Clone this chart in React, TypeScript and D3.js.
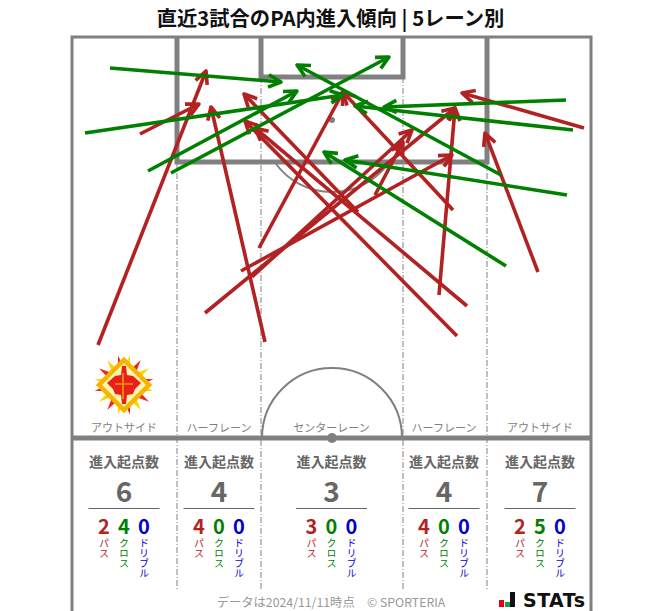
import React from 'react';
import * as d3 from 'd3';

const WIDTH = 663;
const HEIGHT = 611;

// arrows: start x, start y, end x, end y, in pitch units from the frame's top left corner
const passArrows = [
    [26, 308, 134, 34],
    [68, 97, 127, 67],
    [193, 305, 139, 70],
    [286, 175, 172, 57],
    [385, 299, 173, 84],
    [395, 269, 183, 91],
    [187, 211, 271, 55],
    [381, 173, 271, 55],
    [303, 158, 331, 105],
    [133, 276, 383, 71],
    [169, 234, 380, 118],
    [180, 240, 340, 93],
    [367, 258, 383, 71],
    [466, 235, 413, 96],
    [512, 91, 390, 56]
];
const crossArrows = [
    [38, 31, 209, 45],
    [13, 96, 271, 58],
    [76, 134, 225, 54],
    [99, 136, 317, 20],
    [494, 63, 312, 70],
    [501, 93, 283, 69],
    [495, 158, 273, 123],
    [429, 138, 225, 28],
    [434, 229, 252, 115]
];

const laneNames = ['アウトサイド', 'ハーフレーン', 'センターレーン', 'ハーフレーン', 'アウトサイド'];
const laneCenters = [52, 147, 259.5, 372, 468];
const totals = [6, 4, 3, 4, 7];
const passes = [2, 4, 3, 4, 2];
const crosses = [4, 0, 0, 0, 5];
const dribbles = [0, 0, 0, 0, 0];
const laneLines = [105, 189, 331, 415];

const RED = '#b22222';
const GREEN = '#008000';
const BLUE = '#0000cd';
const LINE = '#808080';
const FONT = '"Noto Sans CJK JP", "Noto Sans", sans-serif';

const x = d3.scaleLinear().domain([0, 519]).range([72, 591]);
const y = d3.scaleLinear().domain([0, 574]).range([37, 611]);

const arrowHead = (a: number[]) => {
    const x1 = x(a[2]);
    const y1 = y(a[3]);
    const angle = Math.atan2(y(a[1]) - y1, x(a[0]) - x1);
    const len = 14;
    const spread = 0.46;
    const p = (d: number) => [x1 + Math.cos(angle + d) * len, y1 + Math.sin(angle + d) * len];
    const [ax, ay] = p(spread);
    const [bx, by] = p(-spread);
    return `M${ax},${ay}L${x1},${y1}L${bx},${by}`;
};

function Arrows({ data, color }: { data: number[][]; color: string }) {
    return (
        <g stroke={color} fill="none" strokeWidth={3.6}>
            {data.map((a, i) => (
                <g key={i}>
                    <line x1={x(a[0])} y1={y(a[1])} x2={x(a[2])} y2={y(a[3])} />
                    <path d={arrowHead(a)} strokeLinejoin="round" />
                </g>
            ))}
        </g>
    );
}

function Emblem({ cx, cy }: { cx: number; cy: number }) {
    const spikes = d3.range(16);
    const wedge = (i: number, outer: number) => {
        const a = (i / 16) * Math.PI * 2;
        const w = Math.PI / 11;
        const inner = 14;
        return `M${Math.cos(a - w) * inner},${Math.sin(a - w) * inner}L${Math.cos(a) * outer},${Math.sin(a) * outer}L${Math.cos(a + w) * inner},${Math.sin(a + w) * inner}Z`;
    };
    return (
        <g transform={`translate(${cx},${cy})`}>
            {spikes.map((i) => (
                <path key={i} d={wedge(i + 0.5, 30)} fill={i % 2 === 0 ? '#ffd500' : '#e8281c'} />
            ))}
            <path d="M0,-25L25,0L0,25L-25,0Z" fill="#fff3b0" stroke="#f5b400" strokeWidth={4.5} />
            <path
                d="M-2,-19H2L3,-10L9,-9L17,-2L11,4L9,9L3,10L2,19H-2L-3,10L-9,9L-11,4L-17,-2L-9,-9L-3,-10Z"
                fill="#e8201a"
            />
            <path d="M-1,-12V14M-9,-1H9" stroke="#f5c400" strokeWidth={1.2} fill="none" />
        </g>
    );
}

function Pitch() {
    const cx = x(260);
    const midY = y(401);
    const boxBottom = y(125);
    const arc = d3.arc();
    const topArc = arc({
        innerRadius: 70,
        outerRadius: 70,
        startAngle: -Math.PI / 2,
        endAngle: Math.PI / 2
    }) as string;
    const spotY = y(83);
    const penaltyDx = Math.sqrt(70 * 70 - (boxBottom - spotY) * (boxBottom - spotY));
    return (
        <g fill="none" stroke={LINE}>
            {laneLines.map((l) => (
                <line
                    key={l}
                    x1={x(l)}
                    x2={x(l)}
                    y1={l === 105 || l === 415 ? boxBottom : y(40)}
                    y2={y(553)}
                    strokeWidth={1}
                    strokeDasharray="6 2 1 2"
                />
            ))}
            <rect x={x(0)} y={y(0)} width={519} height={620} strokeWidth={3} />
            <path d={`M${x(105)},${y(0)}V${boxBottom}H${x(415)}V${y(0)}`} strokeWidth={5} />
            <path d={`M${x(189)},${y(0)}V${y(40)}H${x(331)}V${y(0)}`} strokeWidth={5} />
            <path
                d={`M${cx - penaltyDx},${boxBottom + 2}A70,70 0 0 0 ${cx + penaltyDx},${boxBottom + 2}`}
                strokeWidth={2}
            />
            <circle cx={cx} cy={spotY} r={3} fill={LINE} stroke="none" />
            <path d={topArc} transform={`translate(${cx},${midY})`} strokeWidth={2} />
            <line x1={x(0)} x2={x(519)} y1={midY} y2={midY} strokeWidth={5} />
            <circle cx={cx} cy={midY} r={5} fill={LINE} stroke="none" />
        </g>
    );
}

function LaneStats({ index }: { index: number }) {
    const c = x(laneCenters[index]);
    const cols = [
        { value: passes[index], label: 'パス', color: RED, dx: -20 },
        { value: crosses[index], label: 'クロス', color: GREEN, dx: 0 },
        { value: dribbles[index], label: 'ドリブル', color: BLUE, dx: 20 }
    ];
    return (
        <g textAnchor="middle">
            <text x={c} y={432} fontSize={11} fill="#808080">
                {laneNames[index]}
            </text>
            <text x={c} y={467} fontSize={14} fontWeight={700} fill="#666">
                進入起点数
            </text>
            <text x={c} y={502} fontSize={28} fontWeight={700} fill="#666">
                {totals[index]}
            </text>
            <line x1={c - 35.5} x2={c + 35.5} y1={508.5} y2={508.5} stroke="#666" strokeWidth={1} />
            {cols.map((col) => (
                <g key={col.label} fill={col.color}>
                    <text x={c + col.dx} y={534} fontSize={20} fontWeight={700}>
                        {col.value}
                    </text>
                    <text
                        x={c + col.dx}
                        y={538}
                        fontSize={10}
                        textAnchor="start"
                        style={{ writingMode: 'vertical-rl' }}
                    >
                        {col.label}
                    </text>
                </g>
            ))}
        </g>
    );
}

export default function App() {
    return (
        <svg
            width={WIDTH}
            height={HEIGHT}
            viewBox={`0 0 ${WIDTH} ${HEIGHT}`}
            fontFamily={FONT}
            style={{ position: 'absolute', left: 0, top: 0, display: 'block', background: '#fff' }}
        >
            <text x={330.5} y={26} textAnchor="middle" fontSize={20.3} fontWeight={700} fill="#111">
                直近3試合のPA内進入傾向 | 5レーン別
            </text>
            <Pitch />
            <Emblem cx={124} cy={385} />
            {laneNames.map((_, i) => (
                <LaneStats key={i} index={i} />
            ))}
            <Arrows data={passArrows} color={RED} />
            <Arrows data={crossArrows} color={GREEN} />
            <text x={331} y={607.4} textAnchor="middle" fontSize={12.3} fill="#999">
                データは2024/11/11時点　© SPORTERIA
            </text>
            <g>
                <rect x={499} y={600} width={5} height={7} fill="#e60012" />
                <rect x={505} y={602} width={5} height={5} fill="#1a9b50" />
                <rect x={510} y={592} width={5} height={15} fill="#111" />
                <text
                    x={523}
                    y={607}
                    fontFamily="DejaVu Sans, sans-serif"
                    fontSize={19}
                    fontWeight={700}
                    fill="#111"
                    textLength={62}
                    lengthAdjust="spacing"
                >
                    STATs
                </text>
            </g>
        </svg>
    );
}
